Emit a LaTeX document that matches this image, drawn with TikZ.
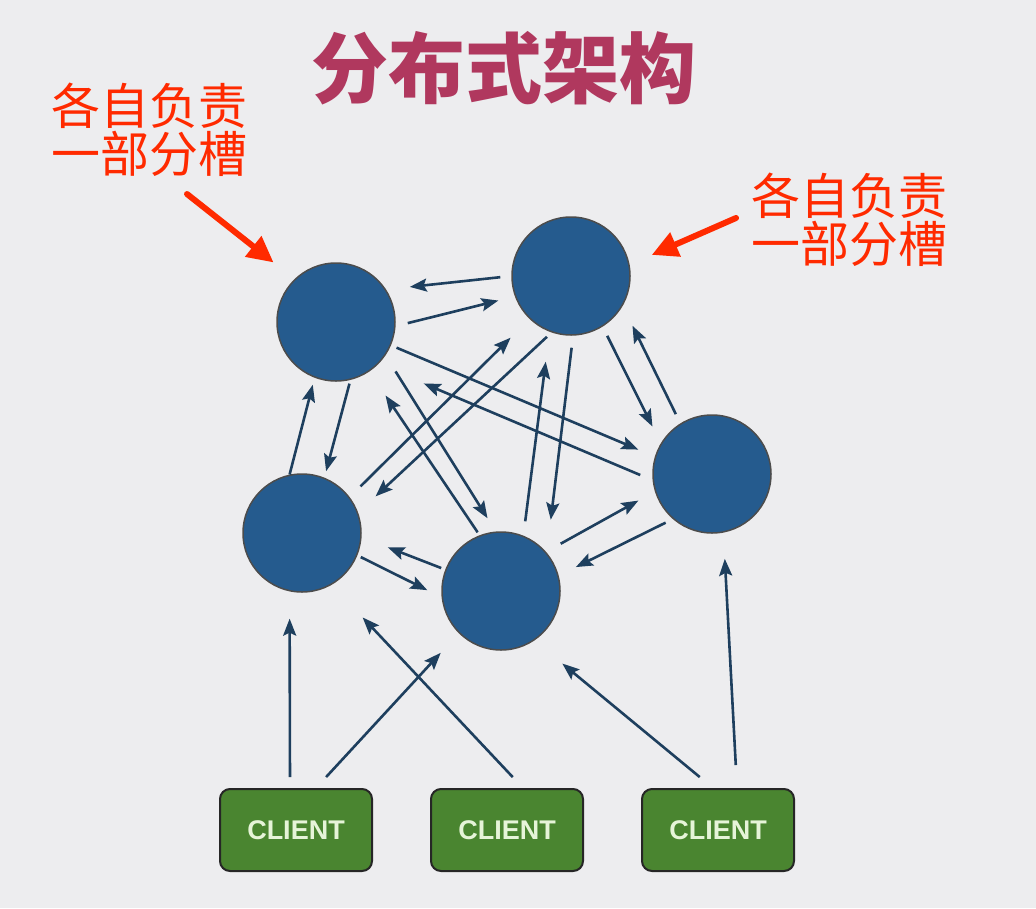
\documentclass[tikz,border=0pt]{standalone}
\usepackage{fontspec}
\usepackage{xcolor}
\usetikzlibrary{arrows.meta, positioning}
\newfontfamily\cjk{Noto Sans CJK SC}
\newfontfamily\clientfont{Liberation Sans}
\definecolor{bgcolor}{HTML}{EDEDEF}
\definecolor{slotblue}{HTML}{255B8E}
\definecolor{linkcolor}{HTML}{1E3F5E}
\definecolor{titlecolor}{HTML}{B0385E}
\definecolor{notered}{HTML}{FF2A00}
\definecolor{clientgreen}{HTML}{4A8530}
\definecolor{clienttext}{HTML}{E6F4D8}

\begin{document}
\begin{tikzpicture}[x=1pt, y=-1pt]
    \tikzstyle{master} = [circle, minimum size=118pt, inner sep=0pt, draw=black!70, line width=1.5pt, fill=slotblue]
    \tikzstyle{client} = [rectangle, rounded corners=10pt, minimum width=152pt, minimum height=82pt, draw=black!85, line width=2pt, fill=clientgreen, text=clienttext, font=\clientfont\bfseries\fontsize{27}{30}\selectfont]
    \tikzstyle{note} = [text=notered, align=left, inner sep=0pt, font=\cjk\fontsize{49}{48}\selectfont]
    \tikzstyle{link} = [line width=2.6pt, draw=linkcolor, -{Stealth[length=17pt, width=13pt, inset=3pt]}]
    \tikzstyle{pointer} = [line width=6pt, line cap=round, draw=notered, -{Triangle[length=26pt, width=25pt]}]

    \fill[bgcolor] (0,0) rectangle (1036,908);
    \useasboundingbox (0,0) rectangle (1036,908);

    \node (title) [text=titlecolor, font=\cjk\bfseries\fontsize{77}{90}\selectfont] at (504,68) {分布式架构};
    \node (lnote) [note] at (149,130) {各自负责\\一部分槽};
    \node (rnote) [note] at (849,220) {各自负责\\一部分槽};

    \node (A) [master] at (336,322) {};
    \node (B) [master] at (571,276) {};
    \node (C) [master] at (302,533) {};
    \node (D) [master] at (501,591) {};
    \node (E) [master] at (712,474) {};

    \node (c1) [client] at (296,830) {CLIENT};
    \node (c2) [client, right of=c1, node distance=211pt] {CLIENT};
    \node (c3) [client, right of=c2, node distance=211pt] {CLIENT};

    \coordinate (ltail) at (187,194);
    \coordinate (rtail) at (736,218);
    \draw [pointer, shorten >=26.7pt] (ltail) -- (A.134);
    \draw [pointer, shorten >=24.1pt] (rtail) -- (B.11);

    \draw [link, shorten <=11pt, shorten >=23.8pt] (B.180) -- (A.33);
    \draw [link, shorten <=12.5pt, shorten >=17pt] (A.356) -- (B.200);
    \draw [link, shorten <=6pt, shorten >=17.9pt] (A.337) -- (E.163);
    \draw [link, shorten <=13.4pt, shorten >=49.3pt] (E.186) -- (A.315);
    \draw [link, shorten <=18.9pt, shorten >=15.6pt] (A.326) -- (D.95);
    \draw [link, shorten <=3.5pt, shorten >=28.9pt] (D.111) -- (A.304);
    \draw [link, shorten <=15.1pt, shorten >=26.6pt] (C.37) -- (B.226);
    \draw [link, shorten <=6.3pt, shorten >=23.8pt] (B.251) -- (C.20);
    \draw [link, shorten <=14.4pt, shorten >=30.2pt] (D.68) -- (B.249);
    \draw [link, shorten <=12.1pt, shorten >=33.1pt] (B.272) -- (D.40);
    \draw [link, shorten <=10.2pt, shorten >=18.7pt] (B.302) -- (E.149);
    \draw [link, shorten <=10.2pt, shorten >=22.1pt] (E.122) -- (B.330);
    \draw [link, shorten <=3.8pt, shorten >=6.6pt] (A.284) -- (C.68);
    \draw [link, shorten >=7.2pt] (C.102) -- (A.249);
    \draw [link, shorten <=4.3pt, shorten >=28pt] (D.159) -- (C.356);
    \draw [link, shorten <=3.8pt, shorten >=15.9pt] (C.338) -- (D.186);
    \draw [link, shorten <=16.7pt, shorten >=18.8pt] (D.41) -- (E.197);
    \draw [link, shorten <=8pt, shorten >=19.1pt] (E.229) -- (D.15);

    \draw [link, shorten <=11pt, shorten >=27.2pt] ([xshift=-6pt]c1.north) -- (C.258);
    \draw [link, shorten <=14.9pt, shorten >=26.6pt] ([xshift=20pt]c1.north) -- (D.225);
    \draw [link, shorten <=15pt, shorten >=44.9pt] ([xshift=16pt]c2.north) -- (C.300);
    \draw [link, shorten <=17.2pt, shorten >=36.2pt] ([xshift=-5pt]c3.north) -- (D.304);
    \draw [link, shorten <=23pt, shorten >=26.2pt] ([xshift=19pt]c3.north) -- (E.281);
\end{tikzpicture}
\end{document}
